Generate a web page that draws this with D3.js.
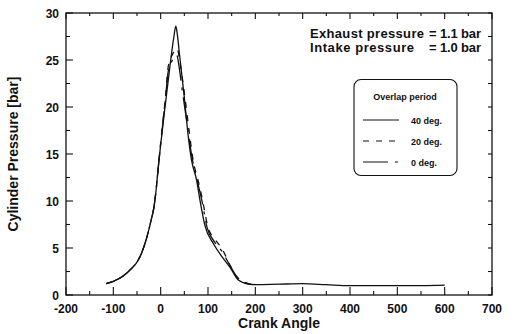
<!DOCTYPE html>
<html>
<head>
<meta charset="utf-8">
<title>Cylinder pressure</title>
<script src="https://d3js.org/d3.v7.min.js"></script>
<style>
  body { margin: 0; background: #fff; }
  text { font-family: "Liberation Sans", Arial, sans-serif; fill: #111; }
  .tick-lbl { font-size: 12px; font-weight: bold; }
  .axis-title { font-size: 14px; font-weight: bold; }
  .note { font-size: 13px; font-weight: bold; }
  .leg { font-size: 9px; font-weight: bold; }
</style>
</head>
<body>
<div id="chart"></div>
<script>
// crank angle [deg] vs cylinder pressure [bar]
var angle40 = [-115,-100,-80,-60,-50,-40,-30,-20,-15,-10,-5,0,10,20,28,32,35,40,50,58,65,76,83,94,111,129,147,164,185,200,250,300,350,400,450,500,550,600];
var press40 = [1.2,1.45,2.0,2.9,3.5,4.5,6.0,8.0,9.1,11.0,13.6,16.0,20.3,24.5,27.5,28.6,27.8,25.5,21.0,17.0,14.4,12.2,10.1,7.3,5.5,4.1,2.9,1.6,1.17,1.1,1.15,1.2,1.1,1.0,1.0,1.0,1.0,1.05];

var angle20 = [-115,-100,-80,-60,-50,-40,-30,-20,-15,-10,-5,0,10,16,25,30,35,40,50,60,68,80,88,100,115,130,145,160,175,190,200];
var press20 = [1.2,1.45,2.0,2.9,3.5,4.5,6.0,8.0,9.1,11.0,13.6,16.2,21.0,24.3,25.6,26.0,26.2,25.0,21.5,17.5,14.5,12.0,10.2,7.2,5.9,4.9,3.3,2.0,1.4,1.15,1.1];

var angle0 = [-115,-100,-80,-60,-50,-40,-30,-20,-15,-10,-5,0,10,16,25,30,34,38,45,55,65,78,86,98,113,130,148,163,180,195,200];
var press0 = [1.2,1.45,2.0,2.9,3.5,4.5,6.0,8.0,9.1,11.0,13.6,16.1,20.8,23.8,25.0,25.4,25.5,24.6,22.0,18.5,15.0,12.0,10.3,7.2,5.7,4.6,3.0,1.8,1.3,1.15,1.1];

var xTicks = [-200,-100,0,100,200,300,400,500,600,700];
var yTicks = [0,5,10,15,20,25,30];
var legendLabels = ["40 deg.", "20 deg.", "0 deg."];
var dashes = [null, "6,7", "25,7,3,7"];

var width = 517, height = 334;
var margin = {left: 66, right: 25, top: 13, bottom: 39};

var svg = d3.select("#chart").append("svg")
  .attr("width", width)
  .attr("height", height);

var x = d3.scaleLinear().domain([-200, 700]).range([margin.left, width - margin.right]);
var y = d3.scaleLinear().domain([0, 30]).range([height - margin.bottom, margin.top]);

var x0 = x.range()[0], x1 = x.range()[1], y0 = y.range()[0], y1 = y.range()[1];

// frame
svg.append("rect")
  .attr("x", x0).attr("y", y1)
  .attr("width", x1 - x0).attr("height", y0 - y1)
  .attr("fill", "none").attr("stroke", "#111").attr("stroke-width", 1.3);

// ticks, all pointing inward
var g = svg.append("g").attr("stroke", "#111").attr("stroke-width", 1.1);
d3.range(-200, 701, 50).forEach(function(v) {
  var major = v % 100 === 0;
  g.append("line").attr("x1", x(v)).attr("x2", x(v)).attr("y1", y0).attr("y2", y0 - (major ? 8 : 4));
  g.append("line").attr("x1", x(v)).attr("x2", x(v)).attr("y1", y1).attr("y2", y1 + (major ? 6 : 3));
});
d3.range(0, 30.1, 2.5).forEach(function(v) {
  var major = v % 5 === 0;
  g.append("line").attr("x1", x0).attr("x2", x0 + (major ? 7 : 4)).attr("y1", y(v)).attr("y2", y(v));
  g.append("line").attr("x1", x1).attr("x2", x1 - 4).attr("y1", y(v)).attr("y2", y(v));
});

// tick labels
svg.selectAll(".xl").data(xTicks).enter().append("text")
  .attr("class", "tick-lbl")
  .attr("x", function(d) { return x(d); })
  .attr("y", y0 + 18)
  .attr("text-anchor", "middle")
  .text(function(d) { return d; });

svg.selectAll(".yl").data(yTicks).enter().append("text")
  .attr("class", "tick-lbl")
  .attr("x", x0 - 7)
  .attr("y", function(d) { return y(d) + 4.5; })
  .attr("text-anchor", "end")
  .text(function(d) { return d; });

// axis titles
svg.append("text").attr("class", "axis-title")
  .attr("x", (x0 + x1) / 2).attr("y", 328)
  .attr("text-anchor", "middle")
  .text("Crank Angle");

svg.append("text").attr("class", "axis-title")
  .attr("transform", "translate(18," + ((y0 + y1) / 2) + ") rotate(-90)")
  .attr("text-anchor", "middle")
  .text("Cylinder Pressure [bar]");

// curves
var line = d3.line()
  .x(function(d) { return x(d[0]); })
  .y(function(d) { return y(d[1]); })
  .curve(d3.curveMonotoneX);

var series = [
  d3.zip(angle40, press40),
  d3.zip(angle20, press20),
  d3.zip(angle0, press0)
];

series.forEach(function(s, i) {
  svg.append("path")
    .datum(s)
    .attr("d", line)
    .attr("fill", "none")
    .attr("stroke", "#111")
    .attr("stroke-width", 1.3)
    .attr("stroke-dasharray", dashes[i]);
});

// notes
svg.append("text").attr("class", "note").attr("x", 310).attr("y", 38)
  .attr("textLength", 114).text("Exhaust pressure");
svg.append("text").attr("class", "note").attr("x", 429).attr("y", 38)
  .attr("textLength", 52).text("= 1.1 bar");
svg.append("text").attr("class", "note").attr("x", 310).attr("y", 52)
  .attr("textLength", 104).text("Intake pressure");
svg.append("text").attr("class", "note").attr("x", 429).attr("y", 52)
  .attr("textLength", 52).text("= 1.0 bar");

// legend
var lg = svg.append("g");
lg.append("rect")
  .attr("x", 354).attr("y", 79.5)
  .attr("width", 103).attr("height", 96)
  .attr("rx", 7).attr("ry", 7)
  .attr("fill", "#fff").attr("stroke", "#111").attr("stroke-width", 1.1);
lg.append("text").attr("class", "leg")
  .attr("x", 405).attr("y", 100)
  .attr("text-anchor", "middle")
  .text("Overlap period");

legendLabels.forEach(function(lbl, i) {
  var ly = 120 + i * 21;
  lg.append("line")
    .attr("x1", 363).attr("x2", 399)
    .attr("y1", ly).attr("y2", ly)
    .attr("stroke", "#111").attr("stroke-width", 1.1)
    .attr("stroke-dasharray", dashes[i]);
  lg.append("text").attr("class", "leg")
    .attr("x", 411).attr("y", ly + 3.5)
    .text(lbl);
});
</script>
</body>
</html>
